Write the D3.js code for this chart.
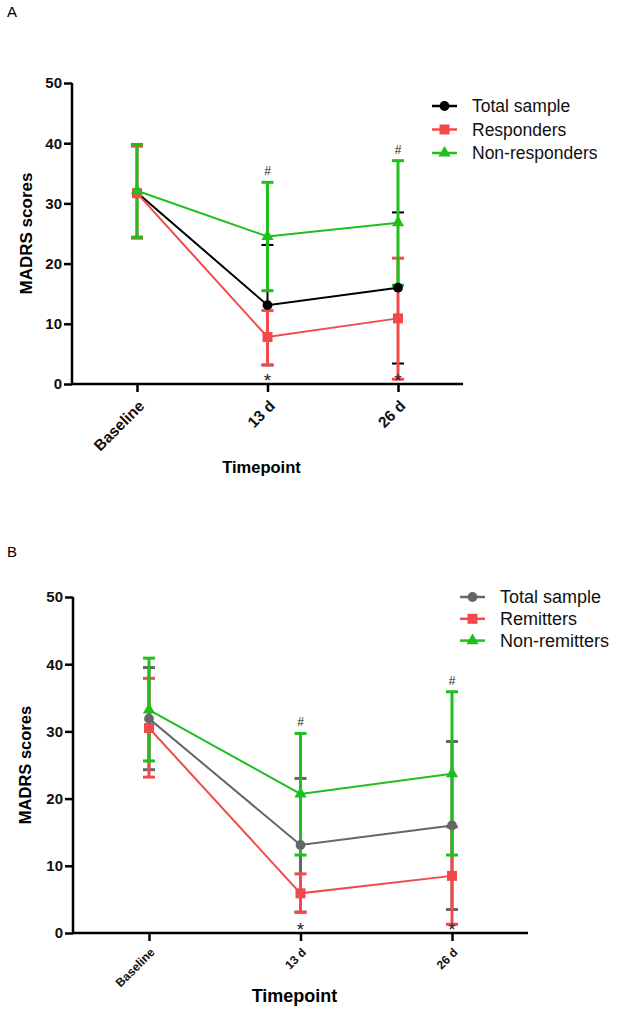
<!DOCTYPE html>
<html>
<head>
<meta charset="utf-8">
<script src="https://cdn.jsdelivr.net/npm/d3@7"></script>
<style>
  body { margin: 0; background: #fff; }
  svg text { font-family: "Liberation Sans", Arial, sans-serif; }
</style>
</head>
<body>
<svg id="chart" width="624" height="1011"></svg>
<script>
// ***** Data *****
var timepoints = ["Baseline", "13 d", "26 d"];
var yTicks = [0, 10, 20, 30, 40, 50];

// Panel A: mean, upper and lower error bar ends
var totalA = [31.8, 13.1, 16.0];
var totalAHi = [39.6, 23.1, 28.5];
var totalALo = [24.2, 3.1, 3.4];
var respA = [31.7, 7.8, 10.9];
var respAHi = [39.5, 12.2, 20.9];
var respALo = [24.3, 3.2, 0.8];
var nonRespA = [32.1, 24.5, 26.8];
var nonRespAHi = [39.8, 33.5, 37.1];
var nonRespALo = [24.4, 15.5, 16.4];

// Panel B
var totalB = [31.9, 13.1, 16.0];
var totalBHi = [39.5, 23.0, 28.5];
var totalBLo = [24.3, 3.1, 3.5];
var remitB = [30.5, 5.9, 8.5];
var remitBHi = [37.9, 8.8, 15.8];
var remitBLo = [23.2, 3.1, 1.3];
var nonRemitB = [33.2, 20.7, 23.7];
var nonRemitBHi = [40.9, 29.7, 35.9];
var nonRemitBLo = [25.6, 11.6, 11.6];

var svg = d3.select("#chart");

var panels = [
  {
    letter: "A", letterY: 17,
    left: 72, right: 463, top: 83, bottom: 384,
    xFirst: 137, xLast: 398,
    tickFont: 15, xTickFont: 15.5, xTickShift: [4, 19], titleFont: 17, xTitleFont: 16.5,
    yTitleX: 32, xTitleY: 473,
    legendX: 432, legendY: 106, legendGap: 23.5, legendFont: 17.5,
    series: [
      {name: "Total sample", color: "#000000", shape: "circle", mean: totalA, hi: totalAHi, lo: totalALo, width: 2},
      {name: "Responders", color: "#f24a4a", shape: "square", mean: respA, hi: respAHi, lo: respALo, width: 3},
      {name: "Non-responders", color: "#1fbf1f", shape: "triangle", mean: nonRespA, hi: nonRespAHi, lo: nonRespALo, width: 3}
    ]
  },
  {
    letter: "B", letterY: 557,
    left: 73, right: 528, top: 597, bottom: 933,
    xFirst: 149, xLast: 452,
    tickFont: 15, xTickFont: 12, xTickShift: [3, 17], titleFont: 16.5, xTitleFont: 18,
    yTitleX: 31, xTitleY: 1002,
    legendX: 460, legendY: 597, legendGap: 21.8, legendFont: 18,
    series: [
      {name: "Total sample", color: "#666666", shape: "circle", mean: totalB, hi: totalBHi, lo: totalBLo, width: 3},
      {name: "Remitters", color: "#f24a4a", shape: "square", mean: remitB, hi: remitBHi, lo: remitBLo, width: 3},
      {name: "Non-remitters", color: "#1fbf1f", shape: "triangle", mean: nonRemitB, hi: nonRemitBHi, lo: nonRemitBLo, width: 3}
    ]
  }
];

function symbolFor(shape) {
  if (shape === "circle") return d3.symbol().type(d3.symbolCircle).size(75);
  if (shape === "square") return d3.symbol().type(d3.symbolSquare).size(100);
  return d3.symbol().type(d3.symbolTriangle).size(65);
}

panels.forEach(function(p) {
  var g = svg.append("g");

  svg.append("text")
    .attr("x", 7).attr("y", p.letterY)
    .attr("font-size", 15)
    .text(p.letter);

  var y = d3.scaleLinear().domain([0, 50]).range([p.bottom, p.top]);
  var x = d3.scalePoint().domain(timepoints).range([p.xFirst, p.xLast]);

  // y axis
  var yAxis = g.append("g")
    .attr("transform", `translate(${p.left},0)`)
    .call(d3.axisLeft(y).tickValues(yTicks).tickSize(8).tickPadding(2));
  yAxis.select(".domain").attr("stroke-width", 2.5).attr("d", `M0,${p.bottom}V${p.top}`);
  yAxis.selectAll(".tick line").attr("stroke-width", 2.5);
  yAxis.selectAll(".tick text")
    .attr("font-size", p.tickFont).attr("font-weight", "bold")
    .attr("font-family", "Liberation Sans, Arial, sans-serif").attr("fill", "#111");

  // x axis
  var xAxis = g.append("g")
    .attr("transform", `translate(0,${p.bottom})`)
    .call(d3.axisBottom(x).tickSize(8));
  xAxis.select(".domain").attr("stroke-width", 2.5).attr("d", `M${p.left},0H${p.right}`);
  xAxis.selectAll(".tick line").attr("stroke-width", 2.5);
  xAxis.selectAll(".tick text")
    .attr("font-size", p.xTickFont).attr("font-weight", "bold")
    .attr("font-family", "Liberation Sans, Arial, sans-serif").attr("fill", "#111")
    .attr("text-anchor", "end")
    .attr("x", 0).attr("y", 0)
    .attr("dy", "0.35em")
    .attr("transform", `translate(${p.xTickShift[0]},${p.xTickShift[1]}) rotate(-45)`);

  // axis titles
  g.append("text")
    .attr("transform", `translate(${p.yTitleX},${(p.top + p.bottom) / 2}) rotate(-90)`)
    .attr("text-anchor", "middle")
    .attr("font-size", p.titleFont).attr("font-weight", "bold")
    .text("MADRS scores");
  g.append("text")
    .attr("x", (p.left + p.right) / 2 - 6).attr("y", p.xTitleY)
    .attr("text-anchor", "middle")
    .attr("font-size", p.xTitleFont).attr("font-weight", "bold")
    .text("Timepoint");

  // error bars (drawn first, so lines and markers sit on top)
  p.series.forEach(function(s) {
    var eb = g.append("g").attr("stroke", s.color).attr("stroke-width", s.width);
    timepoints.forEach(function(t, i) {
      var cx = x(t);
      eb.append("line").attr("x1", cx).attr("x2", cx).attr("y1", y(s.hi[i])).attr("y2", y(s.lo[i]));
      eb.append("line").attr("x1", cx - 6).attr("x2", cx + 6).attr("y1", y(s.hi[i])).attr("y2", y(s.hi[i]));
      eb.append("line").attr("x1", cx - 6).attr("x2", cx + 6).attr("y1", y(s.lo[i])).attr("y2", y(s.lo[i]));
    });
  });

  // lines and markers
  p.series.forEach(function(s) {
    var line = d3.line().x(function(d, i) { return x(timepoints[i]); }).y(function(d) { return y(d); });
    g.append("path").datum(s.mean)
      .attr("fill", "none").attr("stroke", s.color).attr("stroke-width", 2)
      .attr("d", line);
    g.selectAll(null).data(s.mean).enter().append("path")
      .attr("d", symbolFor(s.shape))
      .attr("fill", s.color)
      .attr("transform", function(d, i) { return `translate(${x(timepoints[i])},${y(d)})`; });
  });

  // significance marks
  var nonResp = p.series[2];
  [1, 2].forEach(function(i) {
    g.append("text")
      .attr("x", x(timepoints[i])).attr("y", y(nonResp.hi[i]) - 7)
      .attr("text-anchor", "middle").attr("font-size", 12).attr("fill", "#222")
      .text("#");
    g.append("text")
      .attr("x", x(timepoints[i])).attr("y", p.bottom + 3)
      .attr("text-anchor", "middle").attr("font-size", 19).attr("fill", "#222")
      .text("*");
  });

  // legend
  var legend = g.append("g");
  p.series.forEach(function(s, i) {
    var ly = p.legendY + i * p.legendGap;
    legend.append("line")
      .attr("x1", p.legendX).attr("x2", p.legendX + 25)
      .attr("y1", ly).attr("y2", ly)
      .attr("stroke", s.color).attr("stroke-width", 2.5);
    legend.append("path")
      .attr("d", symbolFor(s.shape))
      .attr("fill", s.color)
      .attr("transform", `translate(${p.legendX + 12.5},${ly})`);
    legend.append("text")
      .attr("x", p.legendX + 40).attr("y", ly)
      .attr("dy", "0.35em")
      .attr("font-size", p.legendFont).attr("fill", "#111")
      .text(s.name);
  });
});
</script>
</body>
</html>
